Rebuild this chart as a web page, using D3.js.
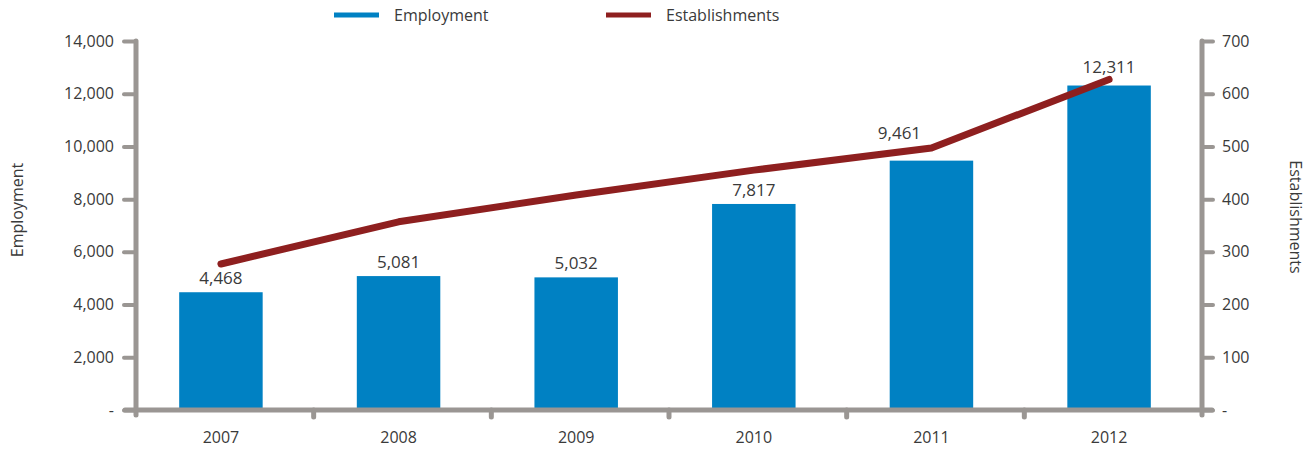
<!DOCTYPE html>
<html>
<head>
<meta charset="utf-8">
<script src="https://cdnjs.cloudflare.com/ajax/libs/d3/7.8.5/d3.min.js"></script>
<style>
  body { margin: 0; background: #fff; }
  text { font-family: "Open Sans", "Noto Sans", sans-serif; fill: #3a3a3a; }
</style>
</head>
<body>
<div id="chart"></div>
<script>
    'use strict';

    // Data
    var years = ["2007", "2008", "2009", "2010", "2011", "2012"];
    var employment = [4468, 5081, 5032, 7817, 9461, 12311];
    var establishments = [277, 357, 408, 455, 497, 627];
    var leftTicks = [0, 2000, 4000, 6000, 8000, 10000, 12000, 14000];
    var rightTicks = [0, 100, 200, 300, 400, 500, 600, 700];

    var width = 1314, height = 450;
    var axisColor = "#9a9693";
    var barColor = "#0081c3";
    var lineColor = "#8e1f1f";
    var fontSize = "16px";

    var svg = d3.select("#chart").append("svg")
        .attr("width", width).attr("height", height);

    var x = d3.scaleBand().domain(years).range([133, 1197]).paddingInner(0.53).paddingOuter(0.26);
    var cat = d3.scaleLinear().domain([0, years.length]).range([136, 1202]); // category boundaries
    var yL = d3.scaleLinear().domain([0, 14000]).range([410, 41]);
    var yR = d3.scaleLinear().domain([0, 700]).range([410, 41]);
    var fmt = function(v) { return v === 0 ? "-" : d3.format(",")(v); };
    var cx = function(d, i) { return x(years[i]) + x.bandwidth() / 2; };

    // Bars
    svg.selectAll(".bar").data(employment).enter().append("rect")
        .attr("class", "bar")
        .attr("x", function(d, i) { return x(years[i]); })
        .attr("y", function(d) { return yL(d); })
        .attr("width", x.bandwidth())
        .attr("height", function(d) { return yL(0) - yL(d); })
        .attr("fill", barColor);

    // Line
    var line = d3.line().x(cx).y(function(d) { return yR(d); });
    svg.append("path").datum(establishments)
        .attr("d", line)
        .attr("fill", "none")
        .attr("stroke", lineColor)
        .attr("stroke-width", 7)
        .attr("stroke-linecap", "round")
        .attr("stroke-linejoin", "round");

    // Bar labels (2011 / 2012 labels nudged clear of the line, as in the original)
    svg.selectAll(".blabel").data(employment).enter().append("text")
        .attr("x", function(d, i) { return cx(d, i) + (i === 4 ? -32 : 0); })
        .attr("y", function(d, i) { return yL(d) - (i === 4 ? 22 : i === 5 ? 13 : 8); })
        .attr("text-anchor", "middle")
        .style("font-size", "17px")
        .text(function(d) { return d3.format(",")(d); });

    // Axes
    var axisStyle = function(g) {
        g.select(".domain").remove();
        g.selectAll(".tick line").attr("stroke", axisColor).attr("stroke-width", 4).attr("stroke-linecap", "round");
        g.selectAll(".tick text").style("font-size", fontSize).attr("fill", "#3a3a3a")
            .style("font-family", '"Open Sans", "Noto Sans", sans-serif');
    };

    var gL = svg.append("g").attr("transform", "translate(136,0)")
        .call(d3.axisLeft(yL).tickValues(leftTicks).tickFormat(fmt).tickSize(12).tickPadding(10));
    axisStyle(gL);

    var gR = svg.append("g").attr("transform", "translate(1202,0)")
        .call(d3.axisRight(yR).tickValues(rightTicks).tickFormat(fmt).tickSize(11).tickPadding(9));
    axisStyle(gR);

    var gB = svg.append("g");
    gB.selectAll("line.bt").data(d3.range(1, years.length)).enter().append("line")
        .attr("x1", function(d) { return cat(d); }).attr("x2", function(d) { return cat(d); })
        .attr("y1", 410).attr("y2", 417)
        .attr("stroke", axisColor).attr("stroke-width", 5).attr("stroke-linecap", "round");
    gB.selectAll("text").data(years).enter().append("text")
        .attr("x", function(d) { return x(d) + x.bandwidth() / 2; })
        .attr("y", 443)
        .attr("text-anchor", "middle")
        .style("font-size", fontSize)
        .text(function(d) { return d; });

    // axis lines
    svg.append("line").attr("x1", 125).attr("x2", 1212).attr("y1", 410).attr("y2", 410)
        .attr("stroke", axisColor).attr("stroke-width", 5).attr("stroke-linecap", "round");
    svg.append("line").attr("x1", 136).attr("x2", 136).attr("y1", 41).attr("y2", 415)
        .attr("stroke", axisColor).attr("stroke-width", 5).attr("stroke-linecap", "round");
    svg.append("line").attr("x1", 1202).attr("x2", 1202).attr("y1", 41).attr("y2", 415)
        .attr("stroke", axisColor).attr("stroke-width", 5).attr("stroke-linecap", "round");

    // Axis titles
    svg.append("text").attr("transform", "translate(23,210) rotate(-90)")
        .attr("text-anchor", "middle").style("font-size", fontSize).text("Employment");
    svg.append("text").attr("transform", "translate(1290,217) rotate(90)")
        .attr("text-anchor", "middle").style("font-size", fontSize).text("Establishments");

    // Legend
    var legend = [
        { name: "Employment", color: barColor, x: 334 },
        { name: "Establishments", color: lineColor, x: 606 }
    ];
    var lg = svg.selectAll(".lg").data(legend).enter().append("g")
        .attr("transform", function(d) { return "translate(" + d.x + ",15)"; });
    lg.append("line").attr("x1", 0).attr("x2", 45).attr("y1", 0).attr("y2", 0)
        .attr("stroke", function(d) { return d.color; }).attr("stroke-width", 5);
    lg.append("text").attr("x", 60).attr("y", 6).style("font-size", fontSize)
        .text(function(d) { return d.name; });
</script>
</body>
</html>
